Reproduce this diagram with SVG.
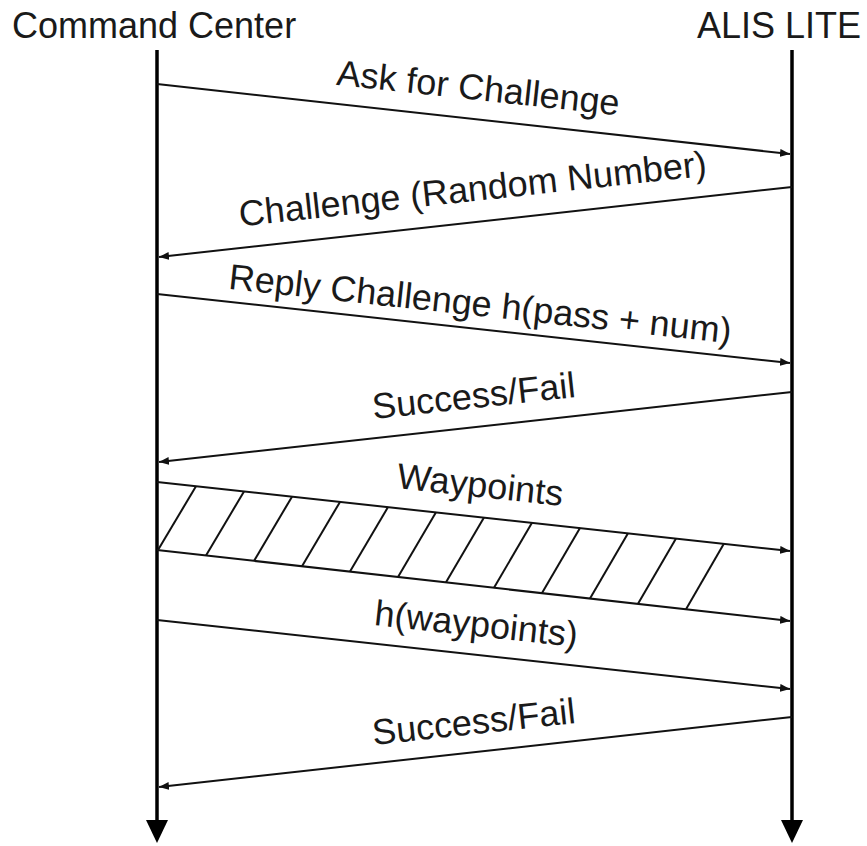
<svg xmlns="http://www.w3.org/2000/svg" width="867" height="846" viewBox="0 0 867 846">
<style>
text{font-family:"Liberation Sans",Arial,sans-serif;font-size:36px;fill:#1a1a1a}
.life{stroke:#000;stroke-width:3.5;fill:none}
.msg{stroke:#111;stroke-width:2;fill:none}
.hatch{stroke:#111;stroke-width:2}
</style>
<defs>
<marker id="ah" markerUnits="userSpaceOnUse" markerWidth="11" markerHeight="9" refX="10" refY="4" orient="auto">
<path d="M0,0 L10,4 L0,8 z" fill="#111"/>
</marker>
</defs>
<rect width="867" height="846" fill="#fff"/>
<g id="command-center">
<text x="12" y="38">Command Center</text>
<line class="life" x1="157" y1="50" x2="157" y2="822"/>
<polygon points="146,820 168,820 157,843" fill="#000"/>
</g>
<g id="alis-lite">
<text x="861" y="38" text-anchor="end">ALIS LITE</text>
<line class="life" x1="792" y1="50" x2="792" y2="822"/>
<polygon points="781,820 803,820 792,843" fill="#000"/>
</g>
<g id="connectors">
<line class="msg" x1="157" y1="84" x2="790" y2="154" marker-end="url(#ah)"/>
<line class="msg" x1="792" y1="187" x2="159" y2="257" marker-end="url(#ah)"/>
<line class="msg" x1="157" y1="294" x2="790" y2="363" marker-end="url(#ah)"/>
<line class="msg" x1="792" y1="392" x2="159" y2="462" marker-end="url(#ah)"/>
<line class="msg" x1="157" y1="482" x2="790" y2="551" marker-end="url(#ah)"/>
<line class="msg" x1="157" y1="550" x2="790" y2="621" marker-end="url(#ah)"/>
<g class="hatch">
<line x1="158" y1="550.1" x2="196" y2="486.2"/>
<line x1="206" y1="555.5" x2="244" y2="491.5"/>
<line x1="254" y1="560.9" x2="292" y2="496.7"/>
<line x1="302" y1="566.2" x2="340" y2="501.9"/>
<line x1="350" y1="571.6" x2="388" y2="507.1"/>
<line x1="398" y1="577.0" x2="436" y2="512.3"/>
<line x1="446" y1="582.3" x2="484" y2="517.5"/>
<line x1="494" y1="587.7" x2="532" y2="522.8"/>
<line x1="542" y1="593.1" x2="580" y2="528.0"/>
<line x1="590" y1="598.4" x2="628" y2="533.2"/>
<line x1="638" y1="603.8" x2="676" y2="538.4"/>
<line x1="686" y1="609.2" x2="724" y2="543.6"/>
</g>
<line class="msg" x1="157" y1="620" x2="790" y2="689" marker-end="url(#ah)"/>
<line class="msg" x1="792" y1="717" x2="159" y2="787" marker-end="url(#ah)"/>
</g>
<g id="labels">
<text x="477" y="100" text-anchor="middle" transform="rotate(6.2 477 100)">Ask for Challenge</text>
<text x="474" y="201" text-anchor="middle" transform="rotate(-6.2 474 201)">Challenge (Random Number)</text>
<text x="479" y="316" text-anchor="middle" transform="rotate(6.2 479 316)">Reply Challenge h(pass + num)</text>
<text x="475" y="408" text-anchor="middle" transform="rotate(-6.2 475 408)">Success/Fail</text>
<text x="479" y="497" text-anchor="middle" transform="rotate(6.2 479 497)">Waypoints</text>
<text x="475" y="636" text-anchor="middle" transform="rotate(6.2 475 636)">h(waypoints)</text>
<text x="475" y="734" text-anchor="middle" transform="rotate(-6.2 475 734)">Success/Fail</text>
</g>
</svg>
